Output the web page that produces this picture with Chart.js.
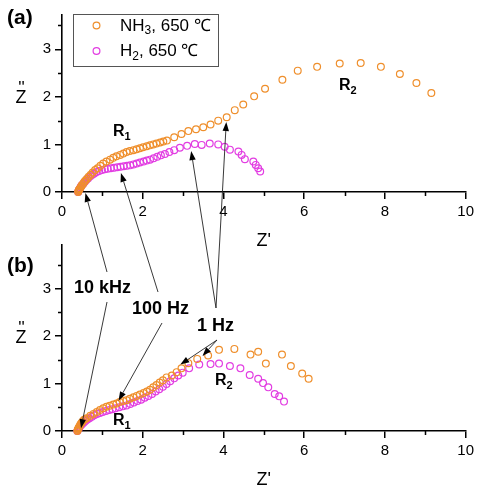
<!DOCTYPE html>
<html>
<head>
<meta charset="utf-8">
<script src="https://cdn.jsdelivr.net/npm/chart.js@4.4.1/dist/chart.umd.min.js"></script>
<style>
  html, body { margin: 0; padding: 0; background: #fff; }
  #wrap { position: relative; width: 478px; height: 491px; overflow: hidden; }
  canvas { position: absolute; left: 0; }
</style>
</head>
<body>
<div id="wrap">
  <canvas id="panelA" width="478" height="252" style="top:0px;width:478px;height:252px"></canvas>
  <canvas id="panelB" width="478" height="261" style="top:230px;width:478px;height:261px"></canvas>
  <canvas id="notes" width="478" height="491" style="top:0px;width:478px;height:491px"></canvas>
</div>
<script>
// series names and ticks
const seriesNames = ["NH₃, 650 ℃", "H₂, 650 ℃"];
const xTicks = [0, 2, 4, 6, 8, 10];
const yTicks = [0, 1, 2, 3];

// panel (a)
const nh3A_x = [0.40,0.41,0.42,0.43,0.45,0.47,0.49,0.52,0.55,0.58,0.62,0.66,0.71,0.76,0.82,0.88,0.95,1.02,1.10,1.19,1.27,1.35,1.44,1.52,1.60,1.68,1.77,1.85,1.93,2.01,2.10,2.18,2.26,2.34,2.43,2.51,2.60,2.78,2.96,3.13,3.32,3.50,3.68,3.87,4.08,4.28,4.49,4.76,5.03,5.46,5.84,6.32,6.88,7.40,7.90,8.37,8.78,9.15];
const nh3A_y = [0.00,0.02,0.04,0.06,0.08,0.11,0.14,0.17,0.21,0.24,0.28,0.32,0.36,0.41,0.46,0.50,0.55,0.60,0.64,0.68,0.72,0.75,0.78,0.81,0.84,0.86,0.88,0.90,0.92,0.94,0.96,0.98,1.00,1.02,1.04,1.06,1.08,1.15,1.22,1.28,1.32,1.36,1.42,1.50,1.57,1.72,1.84,2.01,2.17,2.36,2.55,2.63,2.70,2.71,2.63,2.48,2.29,2.08];
const h2A_x = [0.40,0.41,0.42,0.44,0.46,0.48,0.51,0.54,0.57,0.61,0.65,0.70,0.75,0.80,0.86,0.92,0.99,1.06,1.13,1.21,1.29,1.37,1.45,1.53,1.61,1.69,1.77,1.85,1.93,2.02,2.10,2.18,2.27,2.36,2.45,2.55,2.66,2.78,2.92,3.10,3.29,3.46,3.66,3.87,4.03,4.16,4.37,4.45,4.53,4.74,4.80,4.86,4.91];
const h2A_y = [0.00,0.02,0.04,0.07,0.10,0.13,0.16,0.19,0.22,0.26,0.29,0.33,0.36,0.39,0.42,0.44,0.46,0.48,0.49,0.50,0.51,0.52,0.53,0.54,0.55,0.56,0.58,0.60,0.62,0.64,0.66,0.68,0.71,0.74,0.77,0.80,0.84,0.88,0.93,0.97,1.01,0.99,1.02,1.00,0.95,0.89,0.85,0.78,0.69,0.64,0.57,0.50,0.43];

// panel (b)
const nh3B_x = [0.38,0.39,0.40,0.41,0.42,0.44,0.46,0.48,0.51,0.54,0.57,0.61,0.70,0.78,0.86,0.94,1.02,1.10,1.18,1.27,1.35,1.43,1.52,1.60,1.68,1.77,1.85,1.93,2.02,2.10,2.18,2.26,2.34,2.42,2.50,2.59,2.72,2.84,2.96,3.13,3.35,3.62,3.89,4.27,4.67,4.86,5.05,5.45,5.67,5.95,6.11];
const nh3B_y = [0.00,0.02,0.04,0.06,0.08,0.11,0.14,0.17,0.20,0.23,0.25,0.27,0.32,0.36,0.40,0.44,0.48,0.51,0.53,0.56,0.58,0.61,0.63,0.65,0.68,0.71,0.74,0.77,0.80,0.83,0.87,0.92,0.97,1.02,1.07,1.13,1.17,1.24,1.32,1.43,1.52,1.59,1.71,1.73,1.61,1.67,1.42,1.61,1.37,1.21,1.10];
const h2B_x = [0.38,0.40,0.42,0.44,0.47,0.50,0.54,0.58,0.63,0.68,0.74,0.80,0.87,0.94,1.01,1.09,1.17,1.25,1.33,1.42,1.51,1.60,1.69,1.78,1.87,1.96,2.05,2.14,2.23,2.32,2.41,2.50,2.59,2.68,2.78,2.88,2.99,3.15,3.40,3.68,3.89,4.16,4.42,4.65,4.86,4.98,5.11,5.27,5.38,5.50];
const h2B_y = [0.00,0.03,0.06,0.09,0.12,0.15,0.18,0.21,0.24,0.27,0.30,0.33,0.36,0.38,0.40,0.42,0.44,0.46,0.48,0.50,0.52,0.54,0.57,0.60,0.63,0.66,0.70,0.74,0.78,0.83,0.88,0.93,0.99,1.05,1.11,1.17,1.23,1.32,1.40,1.41,1.42,1.37,1.32,1.18,1.10,1.01,0.92,0.78,0.73,0.62];

const orange = "#EF8F2C";
const magenta = "#E23DE2";
const fontFamily = "'Liberation Sans', Arial, sans-serif";

function pts(xs, ys) {
    return xs.map((x, i) => ({ x: x, y: ys[i] }));
}

// minor ticks halfway between the labelled ones
const minorTicks = {
    id: "minorTicks",
    afterDraw(chart) {
        const { ctx, chartArea, scales: { x, y } } = chart;
        ctx.save();
        ctx.strokeStyle = "#000";
        ctx.lineWidth = 1.5;
        ctx.beginPath();
        const xs = xTicks[1] - xTicks[0];
        for (let v = xTicks[0] + xs / 2; v < x.max; v += xs) {
            const px = Math.round(x.getPixelForValue(v)) + 0.5;
            ctx.moveTo(px, chartArea.bottom);
            ctx.lineTo(px, chartArea.bottom + 4);
        }
        const ys = yTicks[1] - yTicks[0];
        for (let v = yTicks[0] + ys / 2; v < y.max; v += ys) {
            const py = Math.round(y.getPixelForValue(v)) + 0.5;
            ctx.moveTo(chartArea.left, py);
            ctx.lineTo(chartArea.left - 4, py);
        }
        ctx.stroke();
        ctx.restore();
    }
};

function makePanel(id, nx, ny, hx, hy, ymax) {
    const ds = (label, data, color) => ({
        label: label,
        data: data,
        showLine: false,
        pointStyle: "circle",
        pointRadius: 3.4,
        pointBorderWidth: 1.2,
        borderColor: color,
        backgroundColor: "rgba(0,0,0,0)",
        clip: false
    });
    const axisCommon = {
        border: { display: true, color: "#000", width: 1.6 },
        grid: { display: true, drawOnChartArea: false, drawTicks: true, tickLength: 7, color: "#000", lineWidth: 1.5 },
        ticks: { color: "#000", padding: 4, font: { family: fontFamily, size: 15 } }
    };
    return new Chart(document.getElementById(id), {
        type: "scatter",
        data: {
            datasets: [
                ds(seriesNames[0], pts(nx, ny), orange),
                ds(seriesNames[1], pts(hx, hy), magenta)
            ]
        },
        options: {
            responsive: false,
            animation: false,
            layout: { padding: { top: 15, right: 12, left: 0, bottom: 0 } },
            plugins: { legend: { display: false }, tooltip: { enabled: false } },
            scales: {
                x: {
                    ...axisCommon,
                    type: "linear",
                    min: 0,
                    max: 10,
                    afterBuildTicks: s => { s.ticks = xTicks.map(v => ({ value: v })); },
                    afterFit: s => { s.height = 60; },
                    title: { display: true, text: "Z'", color: "#000", padding: 0, font: { family: fontFamily, size: 18 } }
                },
                y: {
                    ...axisCommon,
                    type: "linear",
                    min: 0,
                    max: ymax,
                    afterBuildTicks: s => { s.ticks = yTicks.map(v => ({ value: v })); },
                    afterFit: s => { s.width = 62; },
                    // drawn upright on the notes layer, as in the original
                    title: { display: false, text: "Z''" }
                }
            }
        },
        plugins: [minorTicks]
    });
}

const chartA = makePanel("panelA", nh3A_x, nh3A_y, h2A_x, h2A_y, 3.72);
const chartB = makePanel("panelB", nh3B_x, nh3B_y, h2B_x, h2B_y, 3.92);

// ---- notes layer: legend, labels, arrows ----
const notes = document.getElementById("notes").getContext("2d");
const SUBS = "₀₁₂₃₄₅₆₇₈₉";

function drawRich(ctx, text, x, y, size, weight) {
    let cx = x;
    for (const ch of text) {
        const k = SUBS.indexOf(ch);
        if (k >= 0) {
            ctx.font = `${weight} ${Math.round(size * 0.68)}px ${fontFamily}`;
            ctx.fillText(String(k), cx, y + size * 0.3);
            cx += ctx.measureText(String(k)).width;
        } else {
            ctx.font = `${weight} ${size}px ${fontFamily}`;
            ctx.fillText(ch, cx, y);
            cx += ctx.measureText(ch).width;
        }
    }
    return cx - x;
}

function toPage(chart, xv, yv) {
    const top = chart.canvas.offsetTop;
    return [chart.scales.x.getPixelForValue(xv), top + chart.scales.y.getPixelForValue(yv)];
}

function arrow(ctx, x1, y1, x2, y2) {
    const a = Math.atan2(y2 - y1, x2 - x1);
    const len = 9, half = 3.2;
    const bx = x2 - len * Math.cos(a), by = y2 - len * Math.sin(a);
    ctx.beginPath();
    ctx.moveTo(x1, y1);
    ctx.lineTo(bx, by);
    ctx.stroke();
    ctx.beginPath();
    ctx.moveTo(x2, y2);
    ctx.lineTo(bx + half * Math.sin(a), by - half * Math.cos(a));
    ctx.lineTo(bx - half * Math.sin(a), by + half * Math.cos(a));
    ctx.closePath();
    ctx.fill();
}

notes.textBaseline = "middle";
notes.fillStyle = "#000";

// y axis titles: upright Z with the double prime set above it
[[chartA, 98], [chartB, 338]].forEach(([c, ym]) => {
    notes.textAlign = "center";
    notes.font = `18px ${fontFamily}`;
    notes.fillText("Z", 21, ym);
    notes.font = `17px ${fontFamily}`;
    notes.fillText("''", 21.5, ym - 10);
    notes.textAlign = "left";
});

// legend box inside panel (a)
notes.strokeStyle = "#555";
notes.lineWidth = 1;
notes.strokeRect(73.5, 14.5, 145, 52);
chartA.data.datasets.forEach((d, i) => {
    const y = 26 + i * 25.5;
    notes.beginPath();
    notes.arc(96.5, y - 0.5, 3.4, 0, Math.PI * 2);
    notes.strokeStyle = d.borderColor;
    notes.lineWidth = 1.2;
    notes.stroke();
    notes.fillStyle = "#000";
    drawRich(notes, d.label, 120, y, 17, "normal");
});

// panel letters and resistance labels
drawRich(notes, "(a)", 7, 18, 21, "bold");
drawRich(notes, "(b)", 7, 266, 21, "bold");
drawRich(notes, "R₁", 113, 132, 16, "bold");
drawRich(notes, "R₂", 339, 86, 16, "bold");
drawRich(notes, "R₁", 113, 421, 16, "bold");
drawRich(notes, "R₂", 215, 381, 16, "bold");

// frequency labels
drawRich(notes, "10 kHz", 74, 288, 18, "bold");
drawRich(notes, "100 Hz", 132, 309, 18, "bold");
drawRich(notes, "1 Hz", 197, 326, 18, "bold");

// arrows: [panel, tip x, tip y, start px x, start px y]
const arrows = [
    [chartA, 0.58, -0.02, 107, 272],
    [chartB, 0.47, 0.06, 107, 302],
    [chartA, 1.46, 0.40, 158, 292],
    [chartB, 1.40, 0.64, 162, 323],
    [chartA, 3.20, 0.86, 216, 308],
    [chartA, 4.07, 1.47, 216, 308],
    [chartB, 2.93, 1.40, 217, 340],
    [chartB, 3.48, 1.58, 217, 340]
];
notes.strokeStyle = "#222";
notes.fillStyle = "#000";
notes.lineWidth = 0.9;
arrows.forEach(([c, tx, ty, sx, sy]) => {
    const [px, py] = toPage(c, tx, ty);
    arrow(notes, sx, sy, px, py);
});
</script>
</body>
</html>
